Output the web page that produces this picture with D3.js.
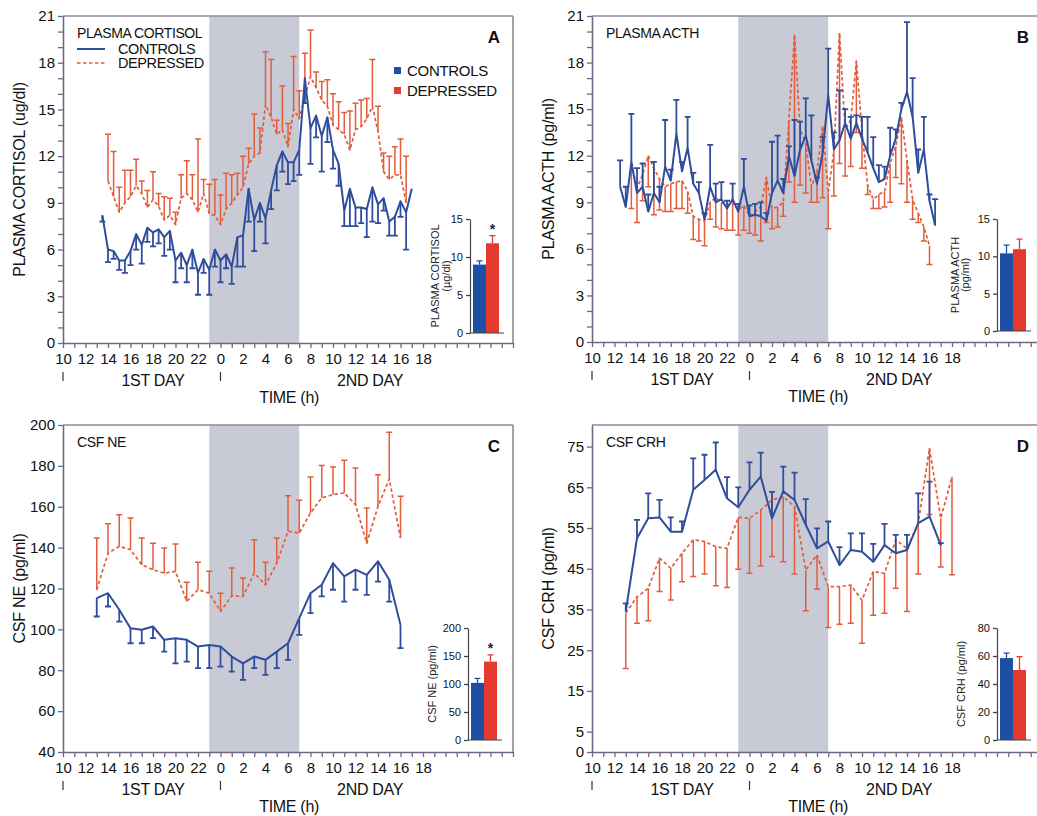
<!DOCTYPE html>
<html><head><meta charset="utf-8">
<script src="https://cdnjs.cloudflare.com/ajax/libs/d3/7.8.5/d3.min.js"></script>
<style>body{margin:0;background:#fff}svg{display:block}</style>
</head><body><svg id="c" width="1037" height="816"></svg>
<script>
// ---------------- DATA ----------------
const hourDomain = [10, 50];
const nightStart = 23, nightEnd = 31;
const xTickHours = [10,12,14,16,18,20,22,24,26,28,30,32,34,36,38,40,42];
const xTickLabels = ["10","12","14","16","18","20","22","0","2","4","6","8","10","12","14","16","18"];
const groups = ["CONTROLS","DEPRESSED"];

// Panel A: plasma cortisol (30-min samples)
const cortCtrlT = [13.5,14,14.5,15,15.5,16,16.5,17,17.5,18,18.5,19,19.5,20,20.5,21,21.5,22,22.5,23,23.5,24,24.5,25,25.5,26,26.5,27,27.5,28,28.5,29,29.5,30,30.5,31,31.5,32,32.5,33,33.5,34,34.5,35,35.5,36,36.5,37,37.5,38,38.5,39,39.5,40,40.5,41];
const cortCtrlMean = [8.2,6.0,5.9,5.3,5.3,5.9,7.0,6.3,7.4,7.1,7.3,6.8,7.2,5.3,5.8,5.0,6.0,4.5,5.4,4.7,6.0,5.3,5.7,4.9,6.8,6.9,9.9,7.9,9.0,8.0,9.8,11.4,12.3,11.6,11.6,12.4,17.0,13.8,14.6,13.3,14.5,12.4,11.5,8.5,9.9,8.7,8.7,8.6,10.0,8.9,9.3,7.8,8.1,9.1,8.4,9.9];
const cortCtrlSem = [0.4,0.8,0.5,0.6,0.8,0.9,1.0,1.2,0.9,0.9,0.9,1.2,1.2,1.4,1.0,1.1,1.2,1.4,0.9,1.6,1.1,1.4,0.9,1.1,1.9,2.0,2.1,2.0,1.2,1.6,1.2,1.6,1.3,1.4,1.2,1.6,1.6,2.3,1.4,2.3,1.6,1.2,1.4,1.0,2.4,1.2,1.0,1.8,2.2,1.2,0.8,0.9,1.2,1.0,2.4,0];
const cortDepT = [14,14.5,15,15.5,16,16.5,17,17.5,18,18.5,19,19.5,20,20.5,21,21.5,22,22.5,23,23.5,24,24.5,25,25.5,26,26.5,27,27.5,28,28.5,29,29.5,30,30.5,31,31.5,32,32.5,33,33.5,34,34.5,35,35.5,36,36.5,37,37.5,38,38.5,39,39.5,40,40.5];
const cortDepMean = [10.4,9.4,8.4,9.0,9.4,10.1,9.6,8.7,9.2,8.8,7.9,8.2,7.6,9.3,9.6,9.2,8.4,9.6,8.3,8.2,7.6,8.6,9.0,9.5,10.0,11.5,12.0,12.2,15.3,14.5,13.4,13.7,12.6,15.0,14.4,15.8,17.1,16.4,15.6,15.2,14.0,13.7,13.4,12.4,13.7,13.9,14.4,15.2,13.6,11.0,10.5,10.8,10.8,9.0];
const cortDepSem = [3.0,2.9,1.6,2.1,1.7,1.7,0.8,1.1,1.8,0.8,1.5,1.1,0.8,1.5,2.1,1.6,4.7,0.9,1.9,2.3,1.9,2.3,1.8,1.4,2.0,1.0,2.7,1.6,3.4,3.7,0.9,2.8,1.5,3.4,1.8,2.8,3.0,1.0,1.2,1.7,2.0,1.8,1.4,2.5,1.7,1.7,1.3,3.0,1.6,1.2,1.5,1.8,2.3,3.0];
const cortTicks = [0,3,6,9,12,15,18,21];
const cortInsetMean = [9.0, 11.8], cortInsetSem = [0.5, 1.0], cortInsetTicks = [0,5,10,15];

// Panel B: plasma ACTH (30-min samples)
const acthCtrlT = [12.5,13,13.5,14,14.5,15,15.5,16,16.5,17,17.5,18,18.5,19,19.5,20,20.5,21,21.5,22,22.5,23,23.5,24,24.5,25,25.5,26,26.5,27,27.5,28,28.5,29,29.5,30,30.5,31,31.5,32,32.5,33,33.5,34,34.5,35,35.5,36,36.5,37,37.5,38,38.5,39,39.5,40,40.5];
const acthCtrlMean = [10.0,8.7,11.6,9.6,10.0,8.4,9.6,9.0,11.3,10.4,13.4,11.0,12.5,10.2,9.6,7.9,10.0,9.0,9.2,8.6,9.2,8.4,10.0,8.1,8.2,8.1,7.8,9.6,10.4,9.6,12.0,10.7,12.4,13.3,11.7,10.2,12.2,15.9,12.4,13.0,14.1,13.1,14.1,13.1,12.2,11.2,10.3,10.5,12.0,13.1,15.0,16.1,14.5,10.9,12.4,9.1,7.5];
const acthCtrlSem = [1.7,1.3,3.1,1.6,1.5,1.1,2.0,1.0,3.0,0.7,2.2,0.6,2.0,0.7,0.7,0.4,2.7,1.2,1.1,0.5,1.0,0.5,1.8,0.7,0.7,0.9,0.5,3.3,2.9,0.9,0.6,3.6,1.8,2.4,2.9,0.4,1.0,3.0,1.1,3.2,0.9,1.4,0.5,1.4,2.3,2.0,1.1,0.8,1.8,0.6,0.4,4.5,2.5,1.5,2.1,0.4,1.7];
const acthDepT = [13.5,14,14.5,15,15.5,16,16.5,17,17.5,18,18.5,19,19.5,20,20.5,21,21.5,22,22.5,23,23.5,24,24.5,25,25.5,26,26.5,27,27.5,28,28.5,29,29.5,30,30.5,31,31.5,32,32.5,33,33.5,34,34.5,35,35.5,36,36.5,37,37.5,38,38.5,39,39.5,40];
const acthDepMean = [11.5,9.9,10.8,12.0,11.2,10.5,10.0,10.2,10.3,10.4,9.7,8.1,7.9,7.8,9.0,9.3,9.0,8.8,9.0,8.5,8.8,8.1,8.4,8.7,10.6,8.6,8.7,9.0,14.3,19.8,13.7,12.8,10.0,11.0,13.9,9.6,12.3,19.9,13.7,14.3,18.1,13.6,10.1,9.2,9.5,9.7,11.5,12.6,14.5,11.7,9.2,8.3,7.4,6.2];
const acthDepSem = [2.9,2.2,1.7,2.0,3.0,2.0,1.6,1.8,1.7,1.8,1.4,1.5,1.4,1.6,1.1,1.9,1.7,1.6,1.8,1.6,1.6,1.1,1.5,2.2,2.9,1.3,1.3,0.9,4.0,10.8,3.6,3.2,1.0,2.0,4.6,2.3,2.9,8.4,3.0,3.0,4.6,2.4,0.6,0.6,0.9,1.0,2.5,2.0,4.3,2.7,1.3,0.6,0.9,1.2];
const acthTicks = [0,3,6,9,12,15,18,21];
const acthInsetMean = [10.4, 10.95], acthInsetSem = [1.1, 1.35], acthInsetTicks = [0,5,10,15];

// Panel C: CSF NE (hourly samples)
const neCtrlT = [13,14,15,16,17,18,19,20,21,22,23,24,25,26,27,28,29,30,31,32,33,34,35,36,37,38,39,40];
const neCtrlMean = [115.3,117.7,109.6,100.6,99.8,101.4,94.9,95.7,94.9,91.6,92.4,91.6,86.7,83.4,86.7,85.1,89.1,93.2,105.5,117.7,121.8,132.4,125.9,129.2,126.7,133.3,124.3,102.2];
const neCtrlSem = [9.0,6.5,5.8,7.4,6.6,5.7,5.8,12.3,10.7,10.6,11.4,9.8,7.4,8.1,5.7,7.4,8.1,8.1,8.2,9.7,5.7,13.0,12.3,9.8,9.8,9.9,10.7,11.4];
const neDepT = [13,14,15,16,17,18,19,20,21,22,23,24,25,26,27,28,29,30,31,32,33,34,35,36,37,38,39,40];
const neDepMean = [119.4,137.3,140.6,139.0,131.6,129.2,127.5,128.4,113.7,119.4,117.7,108.8,116.4,116.1,127.5,121.8,132.4,148.0,147.1,157.0,164.3,165.9,166.8,161.0,142.2,160.2,173.6,144.7];
const neDepSem = [25.3,14.4,15.5,15.5,13.1,13.0,12.3,13.4,9.3,13.4,10.7,8.9,13.6,9.0,16.4,11.0,12.3,17.4,16.1,17.6,15.9,13.6,16.0,18.0,17.2,15.5,22.9,20.4];
const neTicks = [40,60,80,100,120,140,160,180,200];
const neInsetMean = [102, 140], neInsetSem = [8, 12], neInsetTicks = [0,50,100,150,200];

// Panel D: CSF CRH (hourly samples)
const crhCtrlT = [13,14,15,16,17,18,19,20,21,22,23,24,25,26,27,28,29,30,31,32,33,34,35,36,37,38,39,40,41];
const crhCtrlMean = [34.5,52.5,57.4,57.6,54.1,54.1,64.4,66.8,69.3,62.3,60.1,64.4,67.6,57.4,64.0,61.9,55.8,50.0,51.7,45.9,49.6,49.2,46.7,50.8,48.8,49.6,56.2,57.8,50.8];
const crhCtrlSem = [2.0,4.5,6.1,4.3,3.5,2.5,7.7,6.2,6.7,5.2,4.9,6.7,5.9,6.5,6.1,6.7,6.3,4.9,4.9,4.4,4.1,4.5,4.4,5.2,4.5,3.7,7.3,8.6,0.5];
const crhDepT = [13,14,15,16,17,18,19,20,21,22,23,24,25,26,27,28,29,30,31,32,33,34,35,36,37,38,39,40,41,42];
const crhDepMean = [34.1,38.1,40.2,47.6,45.1,48.8,52.1,51.7,50.4,50.0,57.6,57.4,59.4,61.9,62.7,60.3,44.7,48.4,40.6,40.6,41.0,37.3,44.3,43.9,52.1,50.0,56.2,74.6,57.4,67.6];
const crhDepSem = [13.6,6.5,8.0,8.2,7.8,7.0,9.0,8.0,9.6,9.6,12.7,13.5,13.7,13.9,16.0,16.6,10.0,8.4,10.0,9.2,9.4,10.6,10.7,9.8,11.9,15.5,12.5,16.3,12.0,24.1];
const crhTicks = [0,5,15,25,35,45,55,65,75];
const crhInsetMean = [58.5, 50], crhInsetSem = [3.5, 9.5], crhInsetTicks = [0,20,40,60,80];

// ---------------- DRAWING ----------------
const FONT = '"Liberation Sans", Arial, sans-serif';
const COL = {blue:"#2f4d9c", red:"#e35d3d", shade:"#c8cbd5", axis:"#6f6882", frame:"#8e889c", barBlue:"#1d4fa5", barRed:"#e3392f"};
const svg = d3.select("#c");
svg.append("rect").attr("width",1037).attr("height",816).attr("fill","#fff");

function styleAxis(sel, fs) {
  sel.select(".domain").attr("stroke", COL.axis).attr("stroke-width", 1.6);
  sel.selectAll(".tick line").attr("stroke", COL.axis).attr("stroke-width", 1.3);
  sel.selectAll(".tick text").attr("fill", "#111").style("font-size", fs + "px").style("font-family", FONT);
}

function drawSeries(g, x, y, s) {
  const isBlue = s.color === COL.blue;
  const eg = g.append("g").attr("stroke", s.color).attr("stroke-width", isBlue ? 1.8 : 1.5).attr("fill", "none");
  s.t.forEach((t, i) => {
    if (!s.sem[i]) return;
    const y0 = y(s.mean[i]), y1 = y(s.mean[i] + s.dir * s.sem[i]), xx = x(t);
    eg.append("path").attr("d", `M${xx},${y0}V${y1}M${xx - 3},${y1}H${xx + 3}`);
  });
  const line = d3.line().x((d, i) => x(s.t[i])).y(d => y(d));
  g.append("path").datum(s.mean).attr("d", line).attr("fill", "none")
    .attr("stroke", s.color).attr("stroke-width", isBlue ? 2 : 1.7)
    .attr("stroke-dasharray", s.dashed ? "3.5,2.5" : null).attr("stroke-linejoin", "round");
}

function drawInset(ins) {
  const g = svg.append("g");
  const y = d3.scaleLinear().domain([0, ins.max]).range([ins.y0, ins.y1]);
  const ax = g.append("g").attr("transform", `translate(${ins.x},0)`)
    .call(d3.axisLeft(y).tickValues(ins.ticks).tickSize(4).tickSizeOuter(0).tickPadding(3));
  styleAxis(ax, 11);
  ax.select(".domain").attr("stroke", "#444").attr("stroke-width", 1.2);
  ax.selectAll(".tick line").attr("stroke", "#444");
  const xb = d3.scaleBand().domain(groups).range([ins.x + 3, ins.x + 29]).padding(0);
  const cols = [COL.barBlue, COL.barRed];
  groups.forEach((gname, i) => {
    const bx = xb(gname), bw = xb.bandwidth();
    g.append("rect").attr("x", bx).attr("width", bw).attr("y", y(ins.mean[i])).attr("height", ins.y0 - y(ins.mean[i])).attr("fill", cols[i]);
    const cx = bx + bw / 2, yt = y(ins.mean[i] + ins.sem[i]);
    g.append("path").attr("d", `M${cx},${y(ins.mean[i])}V${yt}M${cx - 3},${yt}H${cx + 3}`).attr("stroke", cols[i]).attr("stroke-width", 1.3).attr("fill", "none");
    if (ins.star && i === 1) {
      g.append("text").attr("x", cx).attr("y", yt - 2).attr("text-anchor", "middle").style("font-family", FONT).style("font-size", "14px").style("font-weight", "bold").attr("fill", "#222").text("*");
    }
  });
  g.append("line").attr("x1", ins.x).attr("x2", ins.x + 34).attr("y1", ins.y0).attr("y2", ins.y0).attr("stroke", "#444").attr("stroke-width", 1.2);
  const cy = (ins.y0 + ins.y1) / 2;
  ins.label.forEach((txt, k) => {
    g.append("text").attr("transform", `translate(${ins.labelX[k]},${cy}) rotate(-90)`).attr("text-anchor", "middle").attr("dy", "0.35em")
      .style("font-family", FONT).style("font-size", "11px").attr("fill", "#222").text(txt);
  });
}

function drawPanel(p) {
  const g = svg.append("g");
  const x = d3.scaleLinear().domain(hourDomain).range([p.left, p.left + 450]);
  const y = d3.scaleLinear().domain(p.yDomain).range([p.bottom, p.top]);
  g.append("rect").attr("x", x(nightStart)).attr("y", p.top).attr("width", x(nightEnd) - x(nightStart)).attr("height", p.bottom - p.top).attr("fill", COL.shade);
  g.append("line").attr("x1", p.left).attr("x2", p.left + 450).attr("y1", p.top).attr("y2", p.top).attr("stroke", COL.frame).attr("stroke-width", 1.6);
  g.append("line").attr("x1", p.left + 450).attr("x2", p.left + 450).attr("y1", p.top).attr("y2", p.bottom).attr("stroke", COL.frame).attr("stroke-width", 1.6);
  p.series.forEach(s => drawSeries(g, x, y, s));

  const ya = g.append("g").attr("transform", `translate(${p.left},0)`)
    .call(d3.axisLeft(y).tickValues(p.yTickPos).tickSize(5).tickSizeOuter(0).tickPadding(3)
      .tickFormat(d => p.yTicks.includes(d) ? String(d) : ""));
  styleAxis(ya, 15);
  const xa = g.append("g").attr("transform", `translate(0,${p.bottom})`)
    .call(d3.axisBottom(x).tickValues(d3.range(hourDomain[0], hourDomain[1] + 1, 1)).tickSize(5).tickSizeOuter(0).tickPadding(5)
      .tickFormat(d => { const i = xTickHours.indexOf(d); return i >= 0 ? xTickLabels[i] : ""; }));
  styleAxis(xa, 15);

  // day markers and labels
  [10, 24].forEach(h => g.append("line").attr("x1", x(h)).attr("x2", x(h)).attr("y1", p.bottom + 29).attr("y2", p.bottom + 38).attr("stroke", "#333").attr("stroke-width", 1.2));
  const tx = (h, dy, txt) => g.append("text").attr("x", x(h)).attr("y", p.bottom + dy).attr("text-anchor", "middle")
    .style("font-family", FONT).style("font-size", "16px").style("letter-spacing", "-0.3px").attr("fill", "#111").text(txt);
  tx(18, 43, "1ST DAY");
  tx(37.3, 43, "2ND DAY");
  tx(30.1, 60, "TIME (h)");

  g.append("text").attr("transform", `translate(${p.left - 44},${(p.top + p.bottom) / 2}) rotate(-90)`).attr("text-anchor", "middle").attr("dy", "0.35em")
    .style("font-family", FONT).style("font-size", "16px").style("letter-spacing", "-0.2px").attr("fill", "#111").text(p.yLabel);
  g.append("text").attr("x", p.left + 14).attr("y", p.top + 22).style("font-family", FONT).style("font-size", "14px").style("letter-spacing", "-0.4px").attr("fill", "#111").text(p.title);
  g.append("text").attr("x", p.left + 431).attr("y", p.top + 27).attr("text-anchor", "middle").style("font-family", FONT).style("font-size", "17px").style("font-weight", "bold").attr("fill", "#111").text(p.letter);
  return {x, y, g};
}

const minor21 = d3.range(0, 22, 1);

const pA = drawPanel({left: 63, top: 16, bottom: 343, yDomain: [0, 21], yTicks: cortTicks, yTickPos: minor21,
  yLabel: "PLASMA CORTISOL (ug/dl)", title: "PLASMA CORTISOL", letter: "A",
  series: [
    {t: cortDepT, mean: cortDepMean, sem: cortDepSem, dir: 1, color: COL.red, dashed: true},
    {t: cortCtrlT, mean: cortCtrlMean, sem: cortCtrlSem, dir: -1, color: COL.blue, dashed: false}
  ]});
drawPanel({left: 592, top: 16, bottom: 342, yDomain: [0, 21], yTicks: acthTicks, yTickPos: minor21,
  yLabel: "PLASMA ACTH (pg/ml)", title: "PLASMA ACTH", letter: "B",
  series: [
    {t: acthDepT, mean: acthDepMean, sem: acthDepSem, dir: -1, color: COL.red, dashed: true},
    {t: acthCtrlT, mean: acthCtrlMean, sem: acthCtrlSem, dir: 1, color: COL.blue, dashed: false}
  ]});
drawPanel({left: 63, top: 425, bottom: 752, yDomain: [40, 200], yTicks: neTicks, yTickPos: neTicks,
  yLabel: "CSF NE (pg/ml)", title: "CSF NE", letter: "C",
  series: [
    {t: neDepT, mean: neDepMean, sem: neDepSem, dir: 1, color: COL.red, dashed: true},
    {t: neCtrlT, mean: neCtrlMean, sem: neCtrlSem, dir: -1, color: COL.blue, dashed: false}
  ]});
drawPanel({left: 592, top: 425, bottom: 752, yDomain: [0, 80.3], yTicks: crhTicks, yTickPos: crhTicks,
  yLabel: "CSF CRH (pg/ml)", title: "CSF CRH", letter: "D",
  series: [
    {t: crhDepT, mean: crhDepMean, sem: crhDepSem, dir: -1, color: COL.red, dashed: true},
    {t: crhCtrlT, mean: crhCtrlMean, sem: crhCtrlSem, dir: 1, color: COL.blue, dashed: false}
  ]});

// legends in panel A
const lg = svg.append("g").style("font-family", FONT).attr("fill", "#111");
lg.append("line").attr("x1", 77).attr("x2", 105).attr("y1", 49).attr("y2", 49).attr("stroke", COL.blue).attr("stroke-width", 2);
lg.append("line").attr("x1", 77).attr("x2", 105).attr("y1", 63).attr("y2", 63).attr("stroke", COL.red).attr("stroke-width", 1.7).attr("stroke-dasharray", "3.5,2.5");
lg.append("text").attr("x", 118).attr("y", 54).style("font-size", "14.5px").style("letter-spacing", "-0.4px").text(groups[0]);
lg.append("text").attr("x", 118).attr("y", 68).style("font-size", "14.5px").style("letter-spacing", "-0.4px").text(groups[1]);
lg.append("rect").attr("x", 394).attr("y", 67).attr("width", 7).attr("height", 7).attr("fill", COL.barBlue);
lg.append("rect").attr("x", 394).attr("y", 87).attr("width", 7).attr("height", 7).attr("fill", COL.barRed);
lg.append("text").attr("x", 407).attr("y", 76).style("font-size", "15px").style("letter-spacing", "-0.3px").text(groups[0]);
lg.append("text").attr("x", 407).attr("y", 96).style("font-size", "15px").style("letter-spacing", "-0.3px").text(groups[1]);

// insets
drawInset({x: 470, y0: 333, y1: 219, max: 15, ticks: cortInsetTicks, mean: cortInsetMean, sem: cortInsetSem, star: true,
  label: ["PLASMA CORTISOL", "(µg/dl)"], labelX: [435, 446]});
drawInset({x: 997, y0: 331, y1: 219, max: 15, ticks: acthInsetTicks, mean: acthInsetMean, sem: acthInsetSem, star: false,
  label: ["PLASMA ACTH", "(pg/ml)"], labelX: [955, 965]});
drawInset({x: 468, y0: 740, y1: 628, max: 200, ticks: neInsetTicks, mean: neInsetMean, sem: neInsetSem, star: true,
  label: ["CSF NE (pg/ml)"], labelX: [432]});
drawInset({x: 997, y0: 740, y1: 628, max: 80, ticks: crhInsetTicks, mean: crhInsetMean, sem: crhInsetSem, star: false,
  label: ["CSF CRH (pg/ml)"], labelX: [961]});
</script></body></html>
